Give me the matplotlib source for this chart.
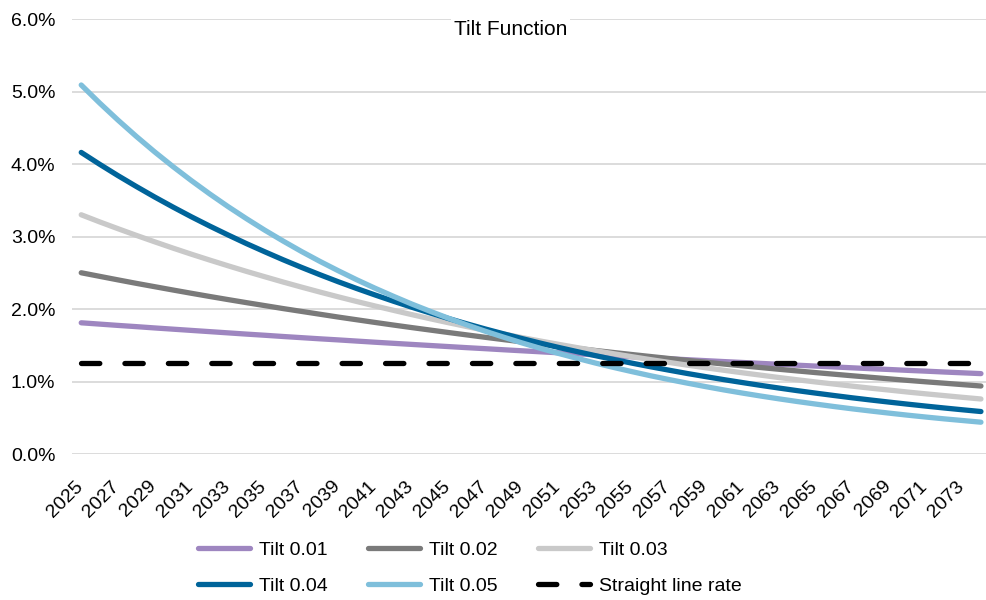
import numpy as np
import matplotlib as mpl
mpl.use('Agg')
import matplotlib.pyplot as plt
import matplotlib.transforms as mtransforms
from matplotlib.ticker import FuncFormatter

plt.rcParams['font.family'] = ['Liberation Sans Narrow', 'Liberation Sans', 'DejaVu Sans']

years = list(range(2025, 2075))

# annual rate in %
tilt_001 = [1.810, 1.792, 1.774, 1.757, 1.739, 1.722, 1.705, 1.688, 1.671, 1.654,
            1.638, 1.621, 1.605, 1.589, 1.574, 1.558, 1.542, 1.527, 1.512, 1.497,
            1.482, 1.467, 1.453, 1.438, 1.424, 1.410, 1.396, 1.382, 1.368, 1.354,
            1.341, 1.328, 1.314, 1.301, 1.288, 1.275, 1.263, 1.250, 1.238, 1.225,
            1.213, 1.201, 1.189, 1.177, 1.166, 1.154, 1.143, 1.131, 1.120, 1.109]
tilt_002 = [2.500, 2.451, 2.402, 2.354, 2.308, 2.262, 2.217, 2.173, 2.130, 2.088,
            2.047, 2.006, 1.967, 1.928, 1.889, 1.852, 1.815, 1.779, 1.744, 1.710,
            1.676, 1.643, 1.610, 1.578, 1.547, 1.516, 1.486, 1.457, 1.428, 1.400,
            1.372, 1.345, 1.318, 1.292, 1.267, 1.241, 1.217, 1.193, 1.169, 1.146,
            1.123, 1.101, 1.079, 1.058, 1.037, 1.016, 0.996, 0.977, 0.957, 0.938]
tilt_003 = [3.300, 3.202, 3.108, 3.016, 2.927, 2.840, 2.756, 2.675, 2.596, 2.519,
            2.445, 2.372, 2.302, 2.234, 2.168, 2.104, 2.042, 1.982, 1.923, 1.866,
            1.811, 1.758, 1.706, 1.655, 1.606, 1.559, 1.513, 1.468, 1.425, 1.383,
            1.342, 1.302, 1.264, 1.226, 1.190, 1.155, 1.121, 1.088, 1.055, 1.024,
            0.994, 0.965, 0.936, 0.908, 0.882, 0.855, 0.830, 0.806, 0.782, 0.759]
tilt_004 = [4.160, 3.997, 3.840, 3.690, 3.545, 3.406, 3.272, 3.144, 3.021, 2.902,
            2.789, 2.679, 2.574, 2.473, 2.376, 2.283, 2.194, 2.108, 2.025, 1.946,
            1.869, 1.796, 1.725, 1.658, 1.593, 1.530, 1.470, 1.413, 1.357, 1.304,
            1.253, 1.204, 1.157, 1.111, 1.068, 1.026, 0.986, 0.947, 0.910, 0.874,
            0.840, 0.807, 0.775, 0.745, 0.716, 0.688, 0.661, 0.635, 0.610, 0.586]
tilt_005 = [5.090, 4.842, 4.606, 4.381, 4.167, 3.964, 3.771, 3.587, 3.412, 3.246,
            3.087, 2.937, 2.793, 2.657, 2.528, 2.404, 2.287, 2.176, 2.069, 1.969,
            1.873, 1.781, 1.694, 1.612, 1.533, 1.458, 1.387, 1.320, 1.255, 1.194,
            1.136, 1.080, 1.028, 0.978, 0.930, 0.884, 0.841, 0.800, 0.761, 0.724,
            0.689, 0.655, 0.623, 0.593, 0.564, 0.536, 0.510, 0.485, 0.462, 0.439]
straight_line = [1.25] * 50

series = [
    ('Tilt 0.01', tilt_001, '#9e86c0'),
    ('Tilt 0.02', tilt_002, '#7a7a7a'),
    ('Tilt 0.03', tilt_003, '#c9c9c9'),
    ('Tilt 0.04', tilt_004, '#00649a'),
    ('Tilt 0.05', tilt_005, '#7fbfdb'),
]

fig = plt.figure(figsize=(9.87, 6.0), dpi=100)
ax = fig.add_axes([0.073, 0.2433, 0.927, 0.725])

x = np.arange(len(years))
handles = []
for name, vals, col in series:
    h, = ax.plot(x, vals, color=col, lw=3.8, solid_capstyle='round', label=name)
    handles.append(h)
h, = ax.plot(x, straight_line, color='black', lw=3.8, dash_capstyle='round',
             linestyle=(0, (3.47, 4.76)), label='Straight line rate')
handles.append(h)

ax.set_xlim(-0.5, 49.33)
ax.set_ylim(0, 6)
ax.set_yticks(np.arange(0, 6.01, 1))
ax.yaxis.set_major_formatter(FuncFormatter(lambda v, p: '%.1f%%' % v))
ax.set_xticks(x[::2])
ax.set_xticklabels([str(y) for y in years[::2]], rotation=45, ha='right')
ax.tick_params(axis='both', length=0, labelsize=14)
ax.tick_params(axis='y', pad=12)
ax.tick_params(axis='x', pad=17)
shift = mtransforms.ScaledTranslation(5 / 100, 0, fig.dpi_scale_trans)
for lab in ax.get_xticklabels():
    lab.set_transform(lab.get_transform() + shift)
ax.grid(axis='y', color='#d9d9d9', lw=1.3)
ax.set_axisbelow(True)
for s in ax.spines.values():
    s.set_visible(False)

ax.text(0.479, 0.976, 'Tilt Function', transform=ax.transAxes, ha='center', va='center',
        fontsize=15, bbox=dict(facecolor='white', edgecolor='none', pad=2))

# legend fills column-wise, reorder so rows read like the original
order = [0, 3, 1, 4, 2, 5]
fig.legend([handles[i] for i in order], [handles[i].get_label() for i in order],
           loc='upper left', bbox_to_anchor=(0.2007, 0.0983), ncol=3, frameon=False,
           fontsize=14, handlelength=2.68, handletextpad=0.45, columnspacing=2.08,
           labelspacing=0.95, borderaxespad=0, borderpad=0)

fig.savefig('out.png', dpi=100)
